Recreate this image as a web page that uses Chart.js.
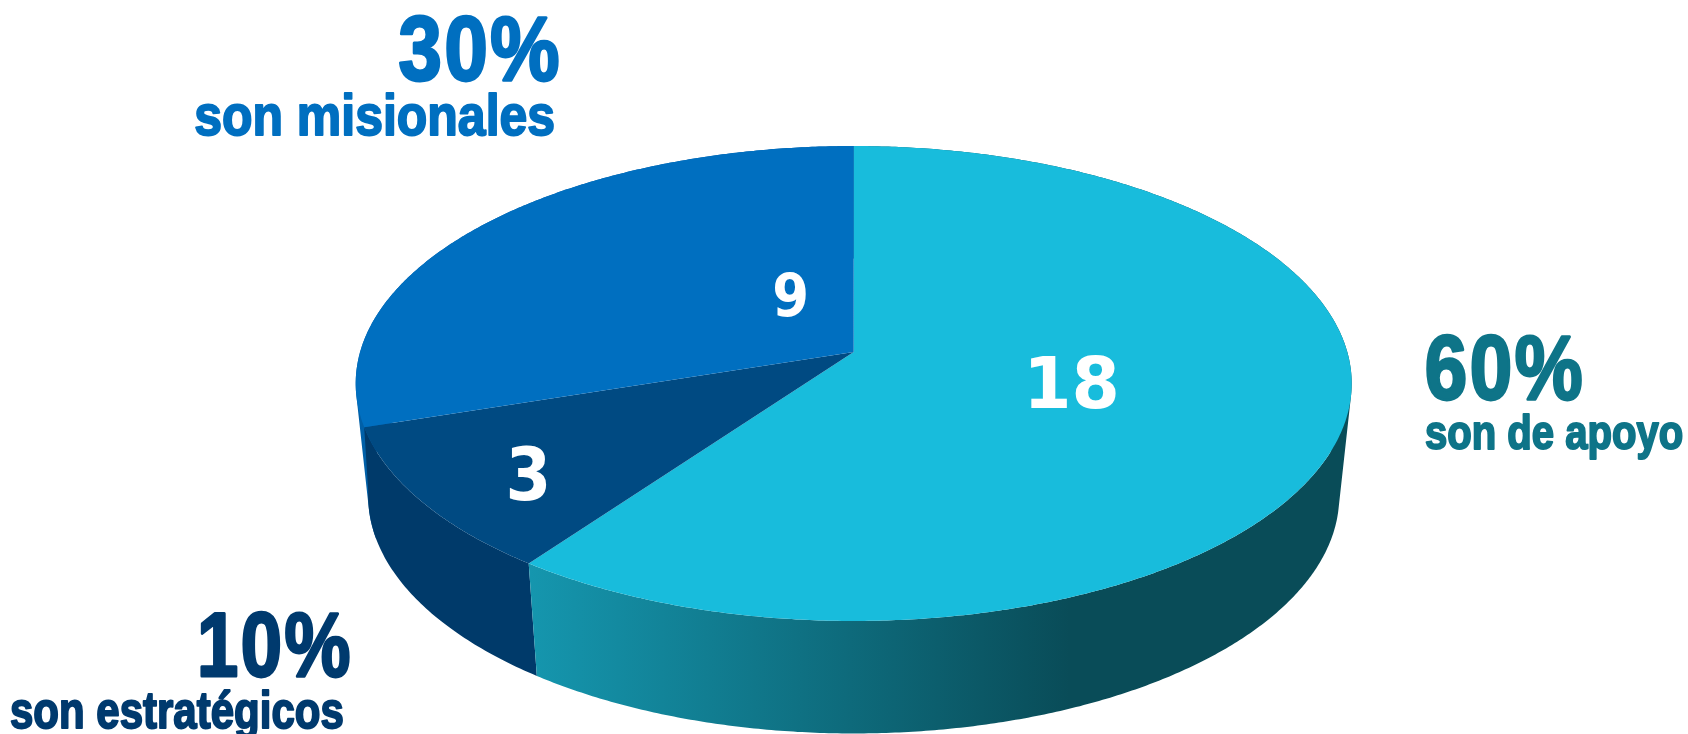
<!DOCTYPE html>
<html lang="es">
<head>
<meta charset="utf-8">
<title>Procesos</title>
<script src="https://cdn.jsdelivr.net/npm/chart.js@4"></script>
<style>
  html, body { margin: 0; padding: 0; background: #fff; overflow: hidden; }
  #wrap { width: 1688px; height: 734px; }
</style>
</head>
<body>
<div id="wrap"><canvas id="pie" width="1688" height="734"></canvas></div>
<script>
// data
var categories = ['son de apoyo', 'son estratégicos', 'son misionales'];
var values = [18, 3, 9];
var percentLabels = ['60%', '10%', '30%'];

var topColors = ['#18bcdc', '#004a82', '#006fc0'];
var wallColors = [null, '#003a6a', '#0060a8'];
var wallReach = [0, 0.2, 0]; // the dark wall leans out over the next one
var textColors = ['#0e7488', '#003a6e', '#006fc0'];

// tilted disc: perspective projection of the unit circle
var VIEW = { cx: 853.7, cy: 352, a: 493.6, b: 233.3, p: -0.1326, depth: 112.5, shrink: 0.975 };

function project(angle, lower) {
  var u = Math.cos(angle), v = Math.sin(angle);
  var d = 1 + VIEW.p * v;
  var a = lower ? VIEW.a * VIEW.shrink : VIEW.a;
  return {
    x: VIEW.cx + a * u / d,
    y: VIEW.cy + (lower ? VIEW.depth : 0) + VIEW.b * v / d
  };
}

function edgePoints(start, end, lower, n) {
  var pts = [];
  for (var i = 0; i <= n; i++) {
    pts.push(project(start + (end - start) * i / n, lower));
  }
  return pts;
}

function addPoly(ctx, pts) {
  pts.forEach(function (pt, i) {
    if (i === 0) ctx.moveTo(pt.x, pt.y); else ctx.lineTo(pt.x, pt.y);
  });
  ctx.closePath();
}

function signedArea(pts) {
  var sum = 0;
  pts.forEach(function (pt, i) {
    var q = pts[(i + 1) % pts.length];
    sum += pt.x * q.y - q.x * pt.y;
  });
  return sum;
}

// the library still lays out the slices, only the drawing of each arc is projected
var discPlugin = {
  id: 'disc',
  beforeDatasetDraw: function (chart, args) {
    var ctx = chart.ctx;
    var arcs = args.meta.data;
    var colors = args.meta.controller.getDataset().backgroundColor;

    var sweep = ctx.createLinearGradient(530, 0, 1070, 0);
    sweep.addColorStop(0, '#1596ae');
    sweep.addColorStop(1, '#094c58');

    ctx.save();
    for (var i = arcs.length - 1; i >= 0; i--) {
      var s = arcs[i].startAngle, e = arcs[i].endAngle;
      var n = Math.ceil((e - s) / 0.008);
      var upper = edgePoints(s, e, false, n);
      var lower = edgePoints(s, e + wallReach[i], true, n);
      // the wall folds over itself at the widest point: one quad per step,
      // all wound the same way so they add up in a single fill
      ctx.beginPath();
      for (var k = 0; k < n; k++) {
        var quad = [upper[k], upper[k + 1], lower[k + 1], lower[k]];
        if (signedArea(quad) < 0) quad.reverse();
        addPoly(ctx, quad);
      }
      ctx.fillStyle = wallColors[i] || sweep;
      ctx.fill();
    }
    arcs.forEach(function (arc, j) {
      var steps = Math.ceil((arc.endAngle - arc.startAngle) / 0.008);
      var pts = edgePoints(arc.startAngle, arc.endAngle, false, steps);
      pts.push({ x: VIEW.cx, y: VIEW.cy });
      ctx.beginPath();
      addPoly(ctx, pts);
      ctx.fillStyle = colors[j];
      ctx.fill();
    });
    ctx.restore();
    return false;
  }
};

// text boxes: x0..x1 is the ink width, y the baseline
var NARROW = '"Liberation Sans Narrow", "Liberation Sans", sans-serif';
var WIDE = '"DejaVu Sans", sans-serif';
var percentBoxes = [
  { x0: 1426, x1: 1582, y: 399, size: 90 },
  { x0: 200, x1: 350, y: 676, size: 90 },
  { x0: 399, x1: 559, y: 80, size: 90 }
];
var nameBoxes = [
  { x0: 1425, x1: 1683, y: 449, size: 48 },
  { x0: 10, x1: 343, y: 728, size: 52 },
  { x0: 195, x1: 554, y: 135, size: 58 }
];
var countBoxes = [
  { x0: 1031, x1: 1116, y: 408, size: 72 },
  { x0: 509, x1: 546, y: 500, size: 73 },
  { x0: 775, x1: 806, y: 316, size: 58 }
];

function fitText(ctx, text, box, family, color, heavy, spacing) {
  ctx.save();
  ctx.font = 'bold ' + box.size + 'px ' + family;
  ctx.letterSpacing = (spacing || 0) + 'px';
  ctx.textAlign = 'left';
  ctx.textBaseline = 'alphabetic';
  var m = ctx.measureText(text);
  var ink = m.actualBoundingBoxRight + m.actualBoundingBoxLeft + heavy;
  var k = (box.x1 - box.x0) / ink;
  ctx.translate(box.x0 + (m.actualBoundingBoxLeft + heavy / 2) * k, box.y);
  ctx.scale(k, 1);
  ctx.fillStyle = color;
  ctx.fillText(text, 0, 0);
  if (heavy) {
    ctx.strokeStyle = color;
    ctx.lineWidth = heavy;
    ctx.lineJoin = 'round';
    ctx.strokeText(text, 0, 0);
  }
  ctx.restore();
}

var labelPlugin = {
  id: 'labels',
  afterDraw: function (chart) {
    var ctx = chart.ctx;
    categories.forEach(function (name, i) {
      fitText(ctx, percentLabels[i], percentBoxes[i], NARROW, textColors[i], 3, 3);
      fitText(ctx, name, nameBoxes[i], NARROW, textColors[i], 2, 0);
      fitText(ctx, String(values[i]), countBoxes[i], WIDE, '#ffffff', 0, 0);
    });
  }
};

new Chart(document.getElementById('pie'), {
  type: 'pie',
  data: {
    labels: categories,
    datasets: [{ data: values, backgroundColor: topColors, borderWidth: 0 }]
  },
  options: {
    responsive: false,
    animation: false,
    plugins: { legend: { display: false }, tooltip: { enabled: false } }
  },
  plugins: [discPlugin, labelPlugin]
});
</script>
</body>
</html>
